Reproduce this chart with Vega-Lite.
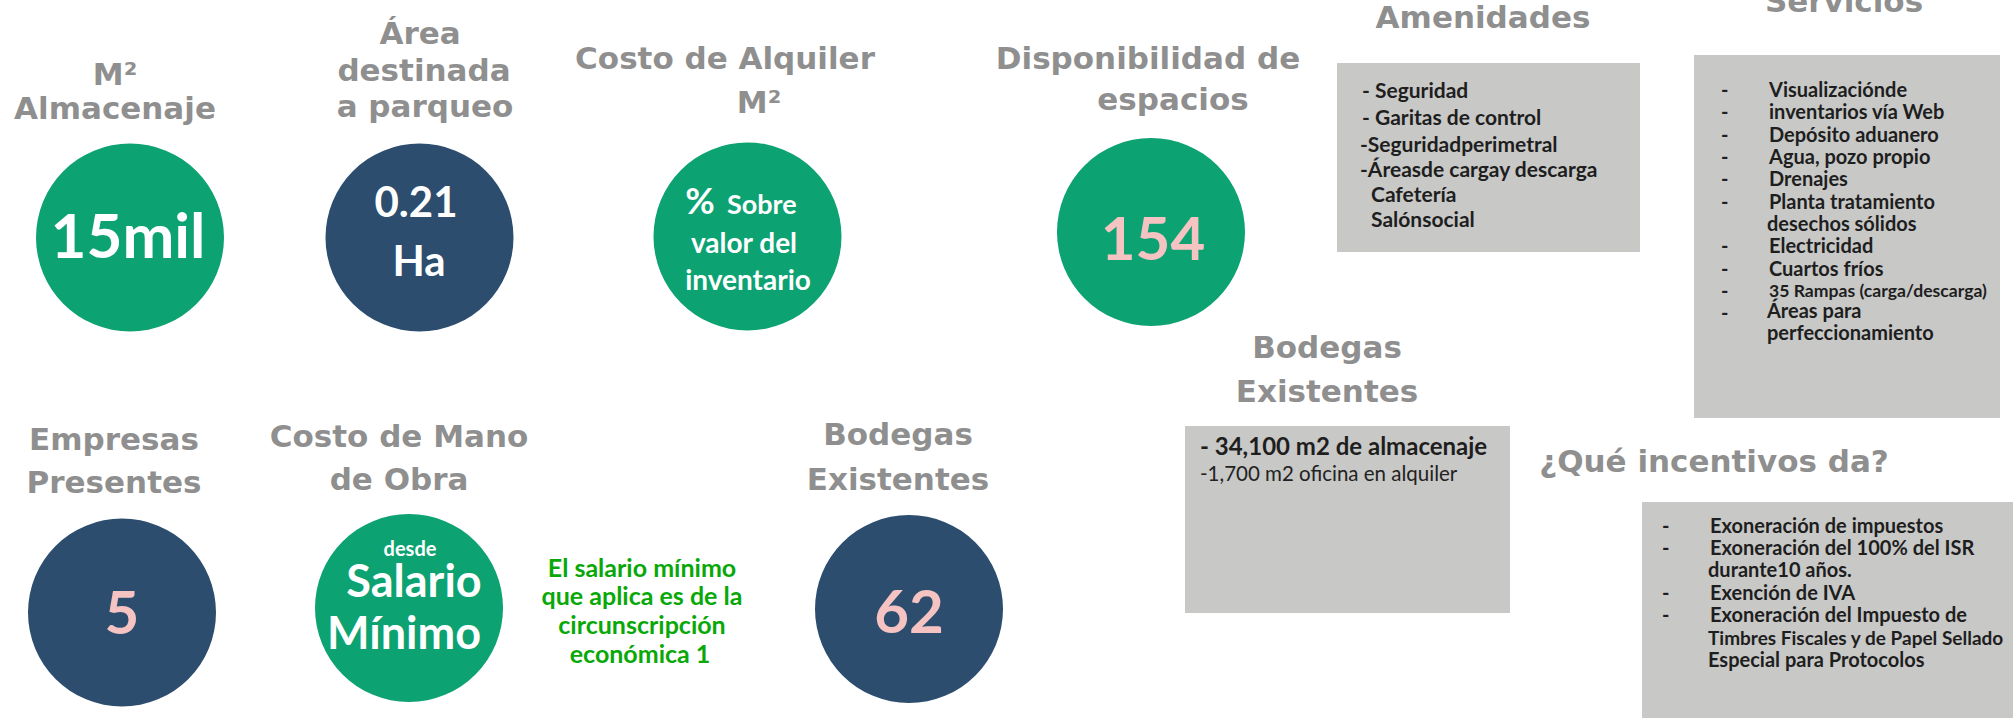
{
  "$schema": "https://vega.github.io/schema/vega-lite/v6.json",
  "width": 2013,
  "height": 718,
  "autosize": {"type": "none"},
  "padding": 0,
  "background": "white",
  "config": {"view": {"stroke": null}},
  "datasets": {
    "circulos": [
      {"x": 130, "y": 237.5, "tono": "verde"},
      {"x": 419.5, "y": 237.5, "tono": "azul"},
      {"x": 747.5, "y": 236.5, "tono": "verde"},
      {"x": 1151, "y": 232, "tono": "verde"},
      {"x": 122, "y": 612.5, "tono": "azul"},
      {"x": 409, "y": 608, "tono": "verde"},
      {"x": 909, "y": 609, "tono": "azul"}
    ],
    "cajas": [
      {"x1": 1337, "x2": 1640, "y1": 63, "y2": 252},
      {"x1": 1694, "x2": 2000, "y1": 55, "y2": 418},
      {"x1": 1185, "x2": 1510, "y1": 426, "y2": 613},
      {"x1": 1642, "x2": 2013, "y1": 502, "y2": 718}
    ],
    "titulos": [
      {"x": 115, "y": 85, "t": "M²"},
      {"x": 115, "y": 119, "t": "Almacenaje"},
      {"x": 420, "y": 44, "t": "Área"},
      {"x": 424, "y": 81, "t": "destinada"},
      {"x": 425, "y": 117, "t": "a parqueo"},
      {"x": 725, "y": 69, "t": "Costo de Alquiler"},
      {"x": 759, "y": 113, "t": "M²"},
      {"x": 1148, "y": 69, "t": "Disponibilidad de"},
      {"x": 1173, "y": 110, "t": "espacios"},
      {"x": 1483, "y": 28, "t": "Amenidades"},
      {"x": 1844, "y": 12, "t": "Servicios"},
      {"x": 1327, "y": 358, "t": "Bodegas"},
      {"x": 1327, "y": 402, "t": "Existentes"},
      {"x": 1714, "y": 472, "t": "¿Qué incentivos da?"},
      {"x": 114, "y": 450, "t": "Empresas"},
      {"x": 114, "y": 493, "t": "Presentes"},
      {"x": 399, "y": 447, "t": "Costo de Mano"},
      {"x": 399, "y": 490, "t": "de Obra"},
      {"x": 898, "y": 445, "t": "Bodegas"},
      {"x": 898, "y": 490, "t": "Existentes"}
    ],
    "cifras": [
      {"x": 128, "y": 258, "t": "15mil", "k": "c62"},
      {"x": 416, "y": 217, "t": "0.21", "k": "c42"},
      {"x": 419, "y": 276, "t": "Ha", "k": "c42"},
      {"x": 700, "y": 214, "t": "%", "k": "c36"},
      {"x": 727, "y": 214, "t": "Sobre", "k": "c28i"},
      {"x": 744, "y": 253, "t": "valor del", "k": "c28"},
      {"x": 748, "y": 290, "t": "inventario", "k": "c28"},
      {"x": 1153, "y": 260, "t": "154", "k": "rosa"},
      {"x": 122, "y": 634, "t": "5", "k": "rosa"},
      {"x": 410, "y": 556, "t": "desde", "k": "c20"},
      {"x": 414, "y": 597, "t": "Salario", "k": "c45"},
      {"x": 404, "y": 649, "t": "Mínimo", "k": "c45"},
      {"x": 909, "y": 633, "t": "62", "k": "rosa"},
      {"x": 642, "y": 577, "t": "El salario mínimo", "k": "verde"},
      {"x": 642, "y": 605, "t": "que aplica es de la", "k": "verde"},
      {"x": 642, "y": 634, "t": "circunscripción", "k": "verde"},
      {"x": 640, "y": 663, "t": "económica 1", "k": "verde"}
    ],
    "listas": [
      {"x": 1362, "y": 98, "t": "- Seguridad", "k": "l21"},
      {"x": 1362, "y": 125, "t": "- Garitas de control", "k": "l21"},
      {"x": 1360, "y": 152, "t": "-Seguridadperimetral", "k": "l21"},
      {"x": 1360, "y": 177, "t": "-Áreasde cargay descarga", "k": "l21"},
      {"x": 1371, "y": 202, "t": "Cafetería", "k": "l21"},
      {"x": 1371, "y": 227, "t": "Salónsocial", "k": "l21"},
      {"x": 1721, "y": 97, "t": "-", "k": "l20"},
      {"x": 1721, "y": 119, "t": "-", "k": "l20"},
      {"x": 1721, "y": 142, "t": "-", "k": "l20"},
      {"x": 1721, "y": 164, "t": "-", "k": "l20"},
      {"x": 1721, "y": 186, "t": "-", "k": "l20"},
      {"x": 1721, "y": 209, "t": "-", "k": "l20"},
      {"x": 1721, "y": 253, "t": "-", "k": "l20"},
      {"x": 1721, "y": 276, "t": "-", "k": "l20"},
      {"x": 1721, "y": 298, "t": "-", "k": "l20"},
      {"x": 1721, "y": 320, "t": "-", "k": "l20"},
      {"x": 1769, "y": 97, "t": "Visualizaciónde", "k": "l20"},
      {"x": 1769, "y": 119, "t": "inventarios vía Web", "k": "l20"},
      {"x": 1769, "y": 142, "t": "Depósito aduanero", "k": "l20"},
      {"x": 1769, "y": 164, "t": "Agua, pozo propio", "k": "l20"},
      {"x": 1769, "y": 186, "t": "Drenajes", "k": "l20"},
      {"x": 1769, "y": 209, "t": "Planta tratamiento", "k": "l20"},
      {"x": 1767, "y": 231, "t": "desechos sólidos", "k": "l20"},
      {"x": 1769, "y": 253, "t": "Electricidad", "k": "l20"},
      {"x": 1769, "y": 276, "t": "Cuartos fríos", "k": "l20"},
      {"x": 1769, "y": 297, "t": "35 Rampas (carga/descarga)", "k": "l17"},
      {"x": 1767, "y": 318, "t": "Áreas para", "k": "l20"},
      {"x": 1767, "y": 340, "t": "perfeccionamiento", "k": "l20"},
      {"x": 1200, "y": 455, "t": "- 34,100 m2 de almacenaje", "k": "l24"},
      {"x": 1662, "y": 533, "t": "-", "k": "l20"},
      {"x": 1662, "y": 555, "t": "-", "k": "l20"},
      {"x": 1662, "y": 600, "t": "-", "k": "l20"},
      {"x": 1662, "y": 622, "t": "-", "k": "l20"},
      {"x": 1710, "y": 533, "t": "Exoneración de impuestos", "k": "l20"},
      {"x": 1710, "y": 555, "t": "Exoneración del 100% del ISR", "k": "l20"},
      {"x": 1708, "y": 577, "t": "durante10 años.", "k": "l20"},
      {"x": 1710, "y": 600, "t": "Exención de IVA", "k": "l20"},
      {"x": 1710, "y": 622, "t": "Exoneración del Impuesto de", "k": "l20"},
      {"x": 1708, "y": 645, "t": "Timbres Fiscales y de Papel Sellado", "k": "l19"},
      {"x": 1708, "y": 667, "t": "Especial para Protocolos", "k": "l20"}
    ],
    "regular": [
      {"x": 1200, "y": 481, "t": "-1,700 m2 oficina en alquiler"}
    ]
  },
  "encoding": {
    "x": {"field": "x", "type": "quantitative", "scale": {"domain": [0, 2013], "nice": false, "zero": false}, "axis": null},
    "y": {"field": "y", "type": "quantitative", "scale": {"domain": [0, 718], "nice": false, "zero": false, "reverse": true}, "axis": null},
    "text": {"field": "t"}
  },
  "layer": [
    {
      "data": {"name": "cajas"},
      "mark": {"type": "rect", "fill": "#c8c8c7", "stroke": null},
      "encoding": {
        "x": {"field": "x1", "type": "quantitative", "scale": {"domain": [0, 2013], "nice": false, "zero": false}, "axis": null},
        "x2": {"field": "x2"},
        "y": {"field": "y1", "type": "quantitative", "scale": {"domain": [0, 718], "nice": false, "zero": false, "reverse": true}, "axis": null},
        "y2": {"field": "y2"},
        "text": null
      }
    },
    {
      "data": {"name": "circulos"},
      "mark": {"type": "point", "shape": "circle", "filled": true, "opacity": 1, "size": 35344, "strokeWidth": 0},
      "encoding": {
        "text": null,
        "color": {"field": "tono", "type": "nominal", "scale": {"domain": ["verde", "azul"], "range": ["#0ca272", "#2c4d6e"]}, "legend": null}
      }
    },
    {
      "data": {"name": "titulos"},
      "mark": {"type": "text", "font": "DejaVu Sans", "fontWeight": "bold", "fontSize": 31, "align": "center", "baseline": "alphabetic", "color": "#8f8f8f"}
    },
    {
      "data": {"name": "cifras"},
      "transform": [{"filter": "datum.k === 'c62'"}],
      "mark": {"type": "text", "font": "Lato", "fontWeight": "bold", "fontSize": 62, "align": "center", "baseline": "alphabetic", "color": "#ffffff"}
    },
    {
      "data": {"name": "cifras"},
      "transform": [{"filter": "datum.k === 'c42'"}],
      "mark": {"type": "text", "font": "Lato", "fontWeight": "bold", "fontSize": 42, "align": "center", "baseline": "alphabetic", "color": "#ffffff"}
    },
    {
      "data": {"name": "cifras"},
      "transform": [{"filter": "datum.k === 'c36'"}],
      "mark": {"type": "text", "font": "Lato", "fontWeight": "bold", "fontSize": 36, "align": "center", "baseline": "alphabetic", "color": "#ffffff"}
    },
    {
      "data": {"name": "cifras"},
      "transform": [{"filter": "datum.k === 'c28i'"}],
      "mark": {"type": "text", "font": "Lato", "fontWeight": "bold", "fontSize": 27, "align": "left", "baseline": "alphabetic", "color": "#ffffff"}
    },
    {
      "data": {"name": "cifras"},
      "transform": [{"filter": "datum.k === 'c28'"}],
      "mark": {"type": "text", "font": "Lato", "fontWeight": "bold", "fontSize": 28, "align": "center", "baseline": "alphabetic", "color": "#ffffff"}
    },
    {
      "data": {"name": "cifras"},
      "transform": [{"filter": "datum.k === 'rosa'"}],
      "mark": {"type": "text", "font": "Lato", "fontWeight": "bold", "fontSize": 60, "align": "center", "baseline": "alphabetic", "color": "#f5c3c2"}
    },
    {
      "data": {"name": "cifras"},
      "transform": [{"filter": "datum.k === 'c20'"}],
      "mark": {"type": "text", "font": "Lato", "fontWeight": "bold", "fontSize": 20, "align": "center", "baseline": "alphabetic", "color": "#ffffff"}
    },
    {
      "data": {"name": "cifras"},
      "transform": [{"filter": "datum.k === 'c45'"}],
      "mark": {"type": "text", "font": "Lato", "fontWeight": "bold", "fontSize": 45, "align": "center", "baseline": "alphabetic", "color": "#ffffff"}
    },
    {
      "data": {"name": "cifras"},
      "transform": [{"filter": "datum.k === 'verde'"}],
      "mark": {"type": "text", "font": "Lato", "fontWeight": "bold", "fontSize": 25, "align": "center", "baseline": "alphabetic", "color": "#08a808"}
    },
    {
      "data": {"name": "listas"},
      "transform": [{"filter": "datum.k === 'l21'"}],
      "mark": {"type": "text", "font": "Lato", "fontWeight": "bold", "fontSize": 21, "align": "left", "baseline": "alphabetic", "color": "#1e1e1e"}
    },
    {
      "data": {"name": "listas"},
      "transform": [{"filter": "datum.k === 'l20'"}],
      "mark": {"type": "text", "font": "Lato", "fontWeight": "bold", "fontSize": 20, "align": "left", "baseline": "alphabetic", "color": "#1e1e1e"}
    },
    {
      "data": {"name": "listas"},
      "transform": [{"filter": "datum.k === 'l19'"}],
      "mark": {"type": "text", "font": "Lato", "fontWeight": "bold", "fontSize": 19, "align": "left", "baseline": "alphabetic", "color": "#1e1e1e"}
    },
    {
      "data": {"name": "listas"},
      "transform": [{"filter": "datum.k === 'l17'"}],
      "mark": {"type": "text", "font": "Lato", "fontWeight": "bold", "fontSize": 17.6, "align": "left", "baseline": "alphabetic", "color": "#1e1e1e"}
    },
    {
      "data": {"name": "listas"},
      "transform": [{"filter": "datum.k === 'l24'"}],
      "mark": {"type": "text", "font": "Lato", "fontWeight": "bold", "fontSize": 24, "align": "left", "baseline": "alphabetic", "color": "#1e1e1e"}
    },
    {
      "data": {"name": "regular"},
      "mark": {"type": "text", "font": "Lato", "fontWeight": "normal", "fontSize": 20.5, "align": "left", "baseline": "alphabetic", "color": "#222222"}
    }
  ],
  "resolve": {"scale": {"color": "independent"}}
}
